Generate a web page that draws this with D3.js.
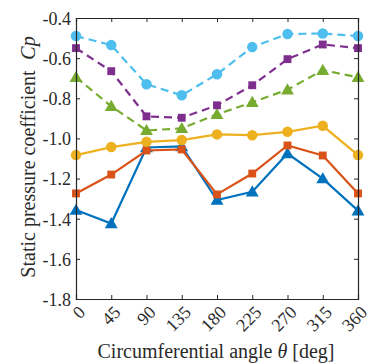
<!DOCTYPE html>
<html>
<head>
<meta charset="utf-8">
<script src="https://cdn.jsdelivr.net/npm/d3@7/dist/d3.min.js"></script>
<style>
  html, body { margin: 0; padding: 0; background: #fff; }
  svg { display: block; }
</style>
</head>
<body>
<svg id="chart" width="376" height="363"></svg>
<script>
// Circumferential positions (deg)
const angles = [0, 45, 90, 135, 180, 225, 270, 315, 360];
const xTickLabels = ["0", "45", "90", "135", "180", "225", "270", "315", "360"];
const yTicks = [-1.8, -1.6, -1.4, -1.2, -1.0, -0.8, -0.6, -0.4];

// Static pressure coefficient per case
const cpCyanCircle   = [-0.49, -0.535, -0.73, -0.785, -0.68, -0.545, -0.48, -0.477, -0.49];
const cpPurpleSquare = [-0.55, -0.665, -0.89, -0.897, -0.835, -0.735, -0.605, -0.532, -0.55];
const cpGreenTri     = [-0.695, -0.84, -0.96, -0.95, -0.88, -0.82, -0.757, -0.66, -0.695];
const cpGoldCircle   = [-1.083, -1.043, -1.017, -1.008, -0.98, -0.984, -0.967, -0.937, -1.083];
const cpRedSquare    = [-1.274, -1.18, -1.06, -1.055, -1.279, -1.175, -1.035, -1.085, -1.274];
const cpBlueTri      = [-1.357, -1.424, -1.045, -1.04, -1.307, -1.266, -1.075, -1.2, -1.36];

const series = [
  { values: cpBlueTri,      color: "#0072BD", marker: "triangle", dashed: false },
  { values: cpRedSquare,    color: "#D95319", marker: "square",   dashed: false },
  { values: cpGoldCircle,   color: "#EDB120", marker: "circle",   dashed: false },
  { values: cpGreenTri,     color: "#77AC30", marker: "triangle", dashed: true },
  { values: cpPurpleSquare, color: "#7E2F8E", marker: "square",   dashed: true },
  { values: cpCyanCircle,   color: "#4DBEEE", marker: "circle",   dashed: true }
];

const FONT = "'Liberation Serif', 'Times New Roman', serif";
const TEXT_COLOR = "#2a2a2a";

const svg = d3.select("#chart");
const L = 76, T = 18, R = 358, B = 299;

const x = d3.scaleLinear().domain([0, 360]).range([L, R]);
const y = d3.scaleLinear().domain([-1.8, -0.4]).range([B, T]);

const axisColor = "#262626";
const tickLen = 4;

// Series lines and markers
const line = d3.line().x((d, i) => x(angles[i])).y(d => y(d));
const symbolOf = {
  circle: d3.symbol().type(d3.symbolCircle).size(86),
  square: d3.symbol().type(d3.symbolSquare).size(62),
  triangle: d3.symbol().type(d3.symbolTriangle).size(72)
};

series.forEach(s => {
  svg.append("path")
    .datum(s.values)
    .attr("d", line)
    .attr("fill", "none")
    .attr("stroke", s.color)
    .attr("stroke-width", 2.2)
    .attr("stroke-dasharray", s.dashed ? "8,5" : null);
  svg.append("g")
    .selectAll("path")
    .data(s.values)
    .join("path")
    .attr("d", symbolOf[s.marker])
    .attr("transform", (d, i) => `translate(${x(angles[i])},${y(d) + (s.marker === "triangle" ? 1 : 0)})`)
    .attr("fill", s.color);
});

// Axes with inward ticks on all four sides
const fmt = d => d.toFixed(1);
const gLeft = svg.append("g").attr("transform", `translate(${L},0)`)
  .call(d3.axisLeft(y).tickValues(yTicks).tickSize(-tickLen).tickPadding(5).tickFormat(fmt));
gLeft.attr("font-family", null).attr("font-size", null);
gLeft.selectAll("text")
  .attr("dy", "0.35em")
  .attr("fill", TEXT_COLOR)
  .style("font-family", FONT)
  .style("font-size", "18px");

const gRight = svg.append("g").attr("transform", `translate(${R},0)`)
  .call(d3.axisRight(y).tickValues(yTicks).tickSize(-tickLen).tickFormat(""));

const gBottom = svg.append("g").attr("transform", `translate(0,${B})`)
  .call(d3.axisBottom(x).tickValues(angles).tickSize(-tickLen).tickFormat(""));

const gTop = svg.append("g").attr("transform", `translate(0,${T})`)
  .call(d3.axisTop(x).tickValues(angles).tickSize(-tickLen).tickFormat(""));

[gLeft, gRight, gBottom, gTop].forEach(g => {
  g.select(".domain").attr("stroke", axisColor).attr("stroke-width", 1.2);
  g.selectAll(".tick line").attr("stroke", axisColor).attr("stroke-width", 1);
});

// Rotated angle labels under the bottom axis
svg.append("g")
  .selectAll("text")
  .data(angles)
  .join("text")
  .attr("transform", d => `translate(${x(d) + 6},${B + 10}) rotate(-45)`)
  .attr("text-anchor", "end")
  .attr("dy", "0.35em")
  .attr("fill", TEXT_COLOR)
  .style("font-family", FONT)
  .style("font-size", "18px")
  .text((d, i) => xTickLabels[i]);

// Axis titles
const xt = svg.append("text")
  .attr("x", 216).attr("y", 358)
  .attr("text-anchor", "middle")
  .attr("fill", TEXT_COLOR)
  .style("font-family", FONT)
  .style("font-size", "20px");
xt.append("tspan").text("Circumferential angle ");
xt.append("tspan").style("font-style", "italic").text("θ");
xt.append("tspan").text(" [deg]");

svg.append("text")
  .attr("transform", "translate(35,174) rotate(-90)")
  .attr("text-anchor", "middle")
  .attr("fill", TEXT_COLOR)
  .style("font-family", FONT)
  .style("font-size", "20px")
  .text("Static pressure coefficient");

svg.append("text")
  .attr("transform", "translate(35,48) rotate(-90)")
  .attr("text-anchor", "middle")
  .attr("fill", TEXT_COLOR)
  .style("font-family", FONT)
  .style("font-size", "20px")
  .style("font-style", "italic")
  .text("Cp");
</script>
</body>
</html>
